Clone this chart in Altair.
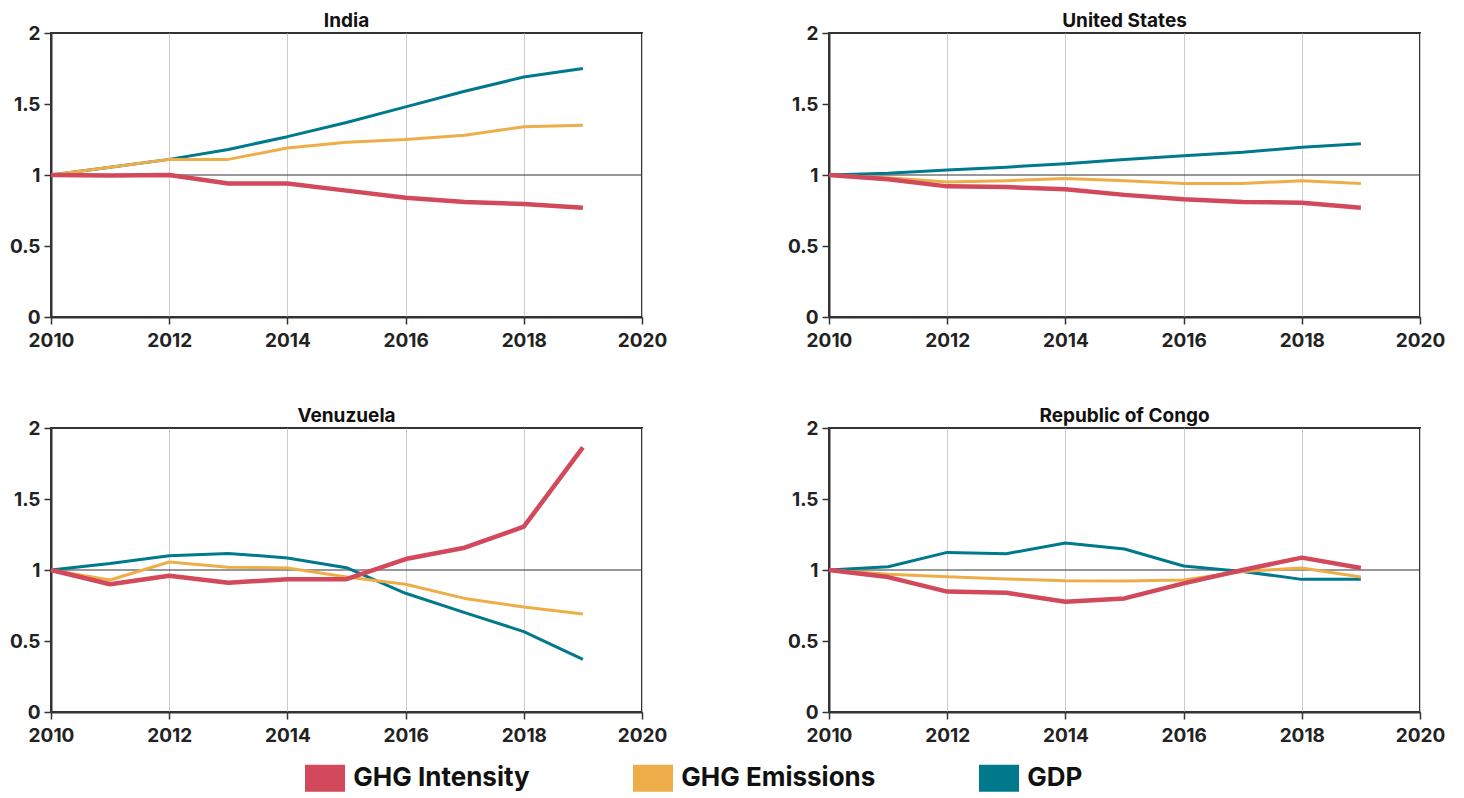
import altair as alt
import pandas as pd

years = list(range(2010, 2020))
countries = ["India", "United States", "Venuzuela", "Republic of Congo"]
series = ["GHG Intensity", "GHG Emissions", "GDP"]
colors = ["#d1495b", "#edae49", "#00798c"]

india_gdp = [1.00, 1.055, 1.11, 1.18, 1.27, 1.37, 1.48, 1.59, 1.69, 1.75]
india_em = [1.00, 1.055, 1.11, 1.11, 1.19, 1.23, 1.25, 1.28, 1.34, 1.35]
india_int = [1.00, 0.996, 1.00, 0.94, 0.94, 0.89, 0.84, 0.81, 0.795, 0.77]

us_gdp = [1.00, 1.013, 1.036, 1.055, 1.08, 1.11, 1.135, 1.16, 1.195, 1.22]
us_em = [1.00, 0.98, 0.95, 0.96, 0.975, 0.96, 0.94, 0.94, 0.96, 0.94]
us_int = [1.00, 0.97, 0.92, 0.915, 0.90, 0.86, 0.83, 0.81, 0.805, 0.77]

ven_gdp = [1.00, 1.045, 1.10, 1.117, 1.085, 1.016, 0.836, 0.70, 0.566, 0.37]
ven_em = [1.00, 0.93, 1.056, 1.02, 1.014, 0.95, 0.90, 0.80, 0.74, 0.69]
ven_int = [1.00, 0.90, 0.96, 0.91, 0.935, 0.935, 1.077, 1.157, 1.305, 1.863]

cog_gdp = [1.00, 1.023, 1.124, 1.115, 1.19, 1.148, 1.028, 0.99, 0.934, 0.934]
cog_em = [1.00, 0.97, 0.953, 0.937, 0.925, 0.923, 0.93, 0.99, 1.014, 0.95]
cog_int = [1.00, 0.95, 0.848, 0.84, 0.777, 0.80, 0.906, 1.00, 1.087, 1.014]

x_ticks = [2010, 2012, 2014, 2016, 2018, 2020]
y_ticks = [0, 0.5, 1, 1.5, 2]

table = {
    "India": (india_int, india_em, india_gdp),
    "United States": (us_int, us_em, us_gdp),
    "Venuzuela": (ven_int, ven_em, ven_gdp),
    "Republic of Congo": (cog_int, cog_em, cog_gdp),
}

rows = []
for c in countries:
    for s, vals in zip(series, table[c]):
        for y, v in zip(years, vals):
            rows.append({"country": c, "series": s, "year": y, "value": v})
df = pd.DataFrame(rows)
ref = pd.DataFrame({"ref": [1.0]})

FONT = "Inter"
WEIGHT = "bold"

xscale = alt.Scale(domain=[2010, 2020], nice=False)
yscale = alt.Scale(domain=[0, 2], nice=False)
xaxis = alt.Axis(values=x_ticks, format="d", title=None, grid=True, labelFlush=False,
                 labelPadding=7)
yaxis = alt.Axis(values=y_ticks, format="~g", title=None, grid=False, labelPadding=4)

# three overlapping thick strokes -> a filled 40x27 swatch for a line legend
legend = alt.Legend(
    orient="none", legendX=249, legendY=720, direction="horizontal", title=None,
    symbolType="M-1,-0.44H1M-1,0H1M-1,0.44H1", symbolSize=1600, symbolStrokeWidth=9.4,
    labelFont=FONT, labelFontSize=26, labelFontWeight=WEIGHT, labelColor="#111",
    labelOffset=3.3, columnPadding=84, padding=0, labelLimit=400,
)
color = alt.Color("series:N", scale=alt.Scale(domain=series, range=colors), legend=legend)


def panel(country):
    base = alt.Chart(df).transform_filter(alt.datum.country == country)
    rule = alt.Chart(ref).mark_rule(color="#333", strokeWidth=1.2).encode(
        y=alt.Y("ref:Q", scale=yscale, axis=yaxis)
    )
    layers = [rule]
    for s, w in [("GDP", 3), ("GHG Emissions", 3), ("GHG Intensity", 4.5)]:
        layers.append(
            base.transform_filter(alt.datum.series == s)
            .mark_line(strokeWidth=w, strokeJoin="round")
            .encode(
                x=alt.X("year:Q", scale=xscale, axis=xaxis),
                y=alt.Y("value:Q", scale=yscale, axis=yaxis),
                color=color,
            )
        )
    return alt.layer(*layers).properties(width=591, height=284, title=country)


chart = (
    alt.concat(*[panel(c) for c in countries], columns=2,
               spacing={"row": 55, "column": 118})
    .properties(padding={"left": 0, "top": 3, "right": 5, "bottom": 0})
    .configure_view(stroke="#333", strokeWidth=2)
    .configure_axis(
        labelFont=FONT, labelFontSize=19, labelFontWeight=WEIGHT, labelColor="#222",
        tickColor="#333", tickSize=7, tickWidth=1.5, domainColor="#333", domainWidth=2,
        gridColor="#cccccc", gridWidth=1,
    )
    .configure_title(font=FONT, fontSize=19, fontWeight=WEIGHT, color="#111",
                     offset=-7, anchor="middle", frame="group")
)

chart.save("out.html", embed_options={"renderer": "svg", "actions": False})
